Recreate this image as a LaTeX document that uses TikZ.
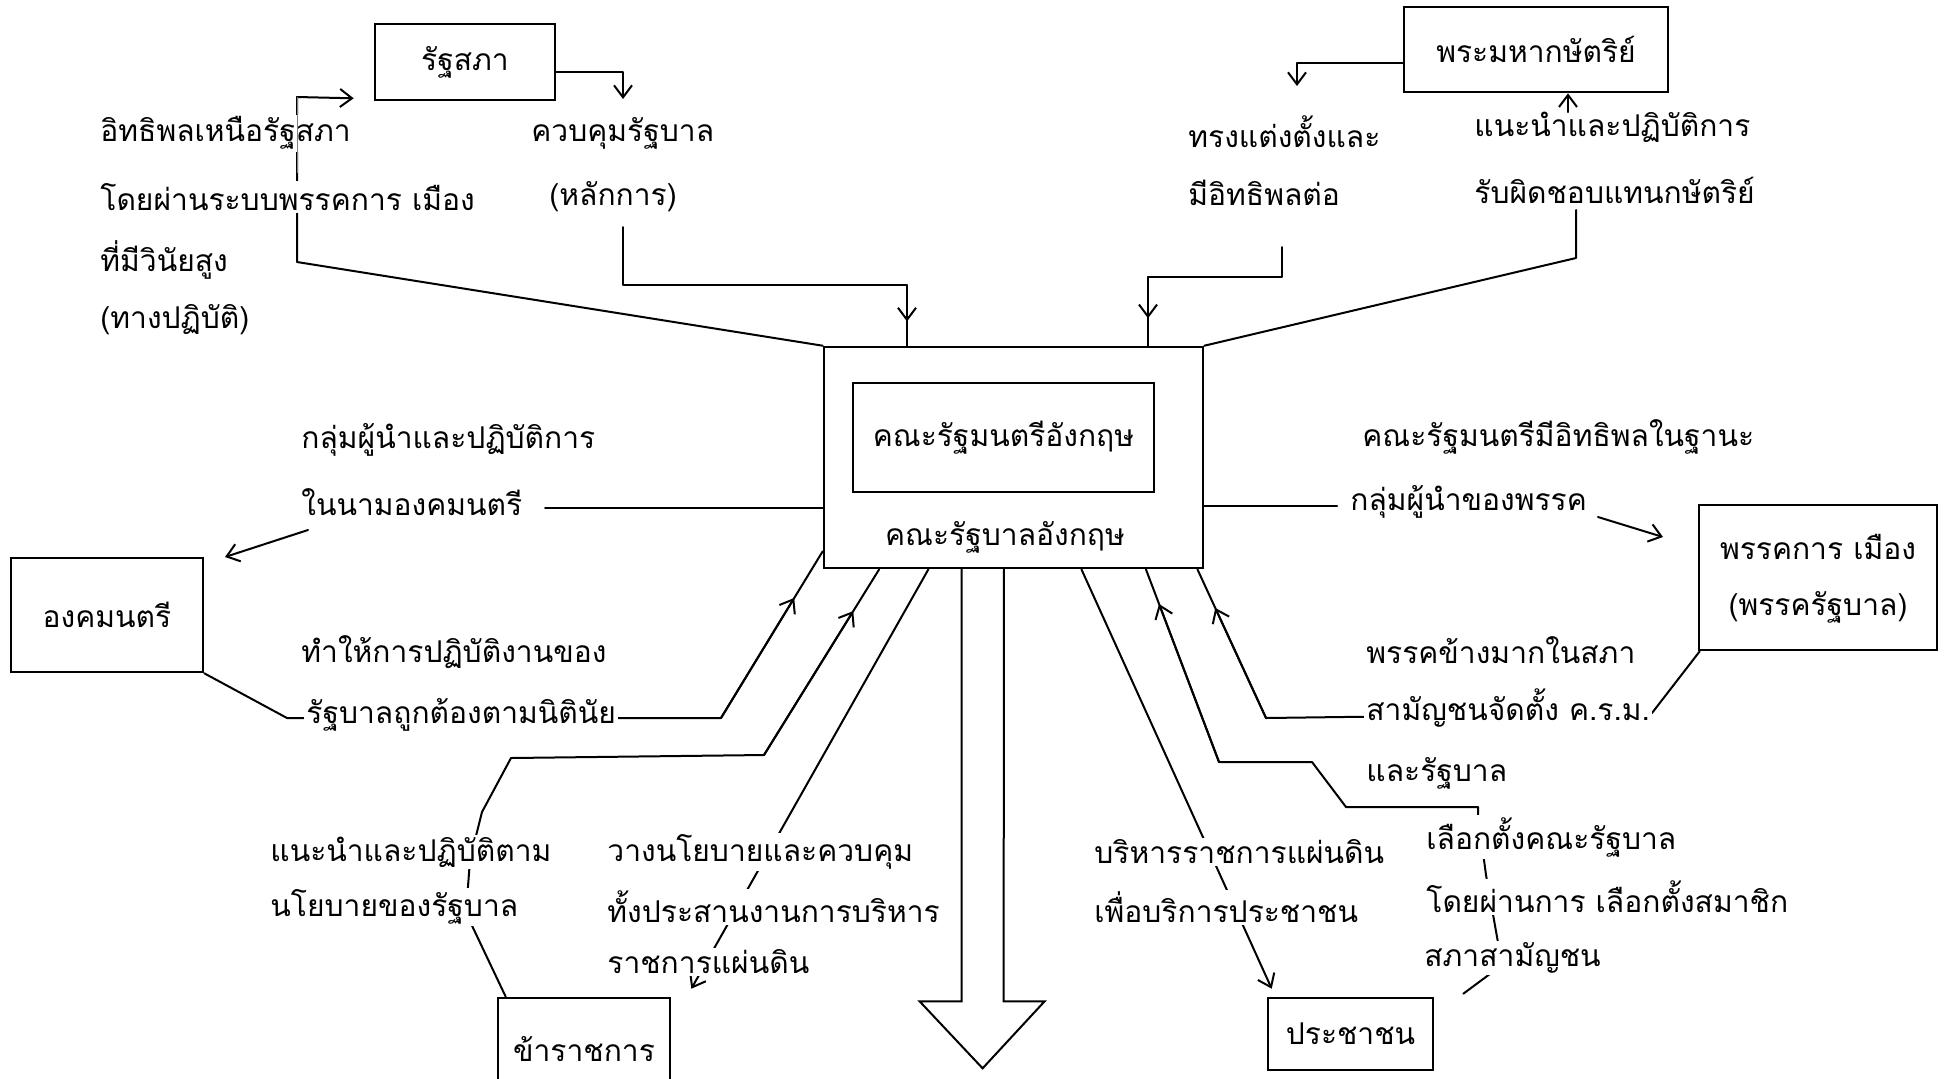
\documentclass[tikz,border=0pt]{standalone}
\usepackage{fontspec}
\newfontfamily\thaifont[Script=Thai]{Loma}
\usetikzlibrary{arrows.meta,calc}
\begin{document}
\begin{tikzpicture}[x=0.5pt,y=-0.5pt,
  ln/.style={line width=1pt, line cap=round, line join=round},
  arr/.style={ln, -{Straight Barb[length=6pt,width=9pt,line width=1pt]}},
  thai/.style={font=\thaifont\fontsize{15}{17}\selectfont},
  lbl/.style={thai, anchor=west, fill=white, inner sep=1pt},
  box/.style={thai, draw, line width=1.3pt, inner sep=0pt},
  sz/.style 2 args={minimum width=#1*0.5pt, minimum height=#2*0.5pt}]
\fill[white] (0,0) rectangle (1949,1078);
\useasboundingbox (0,0) rectangle (1949,1078);

% boxes
\node[box, sz={180}{76}] (rs) at (465,62) {รัฐสภา};
\node[box, sz={264}{85}] (king) at (1536,49.5) {พระมหากษัตริย์};
\node[box, sz={379}{221}] (cab) at (1013.5,457.5) {};
\node[box, sz={301}{109}] (cabin) at (1003.5,437.5) {คณะรัฐมนตรีอังกฤษ};
\node[thai] (govt) at (1005,537) {คณะรัฐบาลอังกฤษ};
\node[box, sz={192}{114}] (privy) at (107,615) {องคมนตรี};
\node[box, sz={238}{145}] (party) at (1818,577.5) {};
\node[thai] (party1) at (1818,547) {พรรคการ เมือง};
\node[thai] (party2) at (1818,607) {(พรรครัฐบาล)};
\node[box, sz={172}{102}] (civil) at (584,1049) {ข้าราชการ};
\node[box, sz={165}{72}] (people) at (1350.5,1034) {ประชาชน};

% L1: cabinet -> parliament
\coordinate (l1a) at (297,262);
\coordinate (l1b) at (297,97);
\draw[arr] (cab.north west) -- (l1a) -- (l1b) -- ($(rs.south west)+(-20,-3)$);

% L2: parliament -> cabinet (control)
\coordinate (l2a) at (623,72);
\coordinate (l2b) at (623,99);
\draw[arr] (l2a -| rs.east) -- (l2a) -- (l2b);
\coordinate (l2c) at (623,227);
\coordinate (l2d) at (623,285);
\coordinate (l2e) at (907,285);
\draw[ln] (l2c) -- (l2d) -- (l2e) -- (l2e |- cab.north);
\draw[arr] (l2e) -- ($(l2e)!0.6!(l2e |- cab.north)$);

% L3: king -> cabinet
\coordinate (l3a) at (1297,63);
\coordinate (l3b) at (1297,86);
\draw[arr] (l3a -| king.west) -- (l3a) -- (l3b);
\coordinate (l3c) at (1282,247);
\coordinate (l3d) at (1282,277);
\coordinate (l3e) at (1148,277);
\draw[ln] (l3c) -- (l3d) -- (l3e) -- (l3e |- cab.north);
\draw[arr] (l3e) -- ($(l3e)!0.6!(l3e |- cab.north)$);

% L4: cabinet -> king
\coordinate (l4a) at (1576,258);
\coordinate (l4b) at (1576,210);
\draw[ln] (cab.north east) -- (l4a) -- (l4b);

% L5: cabinet -> privy council
\coordinate (l5a) at (545,508);
\draw[ln] (l5a) -- (l5a -| cab.west);
\coordinate (l5b) at (308,530);
\coordinate (l5c) at (225,557);
\draw[arr] (l5b) -- (l5c);

% L6: cabinet -> party
\coordinate (l6a) at (1337,506);
\draw[ln] (l6a -| cab.east) -- (l6a);
\coordinate (l6b) at (1598,517);
\coordinate (l6c) at (1663,537);
\draw[arr] (l6b) -- (l6c);

% L7: privy council -> cabinet
\coordinate (l7a) at (287,718);
\coordinate (l7b) at (721,718);
\coordinate (l7c) at ($(cab.south west)+(0,-18)$);
\draw[ln] (privy.south east) -- (l7a) -- (l7b) -- (l7c);
\draw[arr] (l7b) -- ($(l7b)!0.72!(l7c)$);

% L8: civil service -> cabinet
\coordinate (l8a) at (466,913);
\coordinate (l8b) at (470,860);
\coordinate (l8c) at (482,812);
\coordinate (l8d) at (511,758);
\coordinate (l8e) at (764,755);
\coordinate (l8f) at ($(cab.south west)!0.148!(cab.south east)$);
\draw[ln] ($(civil.north west)+(9,0)$) -- (l8a) -- (l8b) -- (l8c) -- (l8d) -- (l8e) -- (l8f);
\draw[arr] (l8e) -- ($(l8e)!0.775!(l8f)$);

% L9: cabinet -> civil service
\coordinate (l9a) at ($(cab.south west)!0.277!(cab.south east)$);
\coordinate (l9b) at ($(civil.north east)+(20,-8)$);
\draw[arr] (l9a) -- (l9b);

% L10: big down arrow
\coordinate (s1) at ($(cab.south west)!0.364!(cab.south east)$);
\coordinate (s2) at ($(cab.south west)!0.475!(cab.south east)$);
\draw[ln, line join=miter] (s1) -- ++(0,432) -- ++(-42,0) -- ++(63,67) -- ++(62,-67) -- ++(-41,0) -- (s2);

% L11: cabinet -> people
\coordinate (l11a) at ($(cab.south west)!0.678!(cab.south east)$);
\coordinate (l11b) at ($(people.north west)+(5,-8)$);
\draw[arr] (l11a) -- (l11b);

% L12: people -> cabinet
\coordinate (l12a) at ($(people.north east)+(29,-3)$);
\coordinate (l12b) at (1502,965);
\coordinate (l12c) at (1486,875);
\coordinate (l12d) at (1478,815);
\coordinate (l12e) at (1478,807);
\coordinate (l12f) at (1346,807);
\coordinate (l12g) at (1312,762);
\coordinate (l12h) at (1219,762);
\coordinate (l12i) at ($(cab.south west)!0.847!(cab.south east)$);
\draw[ln] (l12a) -- (l12b) -- (l12c) -- (l12d) -- (l12e) -- (l12f) -- (l12g) -- (l12h) -- (l12i);
\draw[arr] (l12h) -- ($(l12h)!0.82!(l12i)$);

% L13: party -> cabinet
\coordinate (l13a) at ($(party.south west)+(2,0)$);
\coordinate (l13b) at (1652,713);
\coordinate (l13c) at (1266,718);
\coordinate (l13d) at ($(cab.south west)!0.982!(cab.south east)$);
\draw[ln] (l13a) -- (l13b) -- (l13c) -- (l13d);
\draw[arr] (l13c) -- ($(l13c)!0.74!(l13d)$);

% labels
\node[lbl] (t1) at (98,133) {อิทธิพลเหนือรัฐสภา};
\node[lbl] (t2) at (98,197) {โดยผ่านระบบพรรคการ เมือง};
\node[lbl] (t3) at (98,260) {ที่มีวินัยสูง};
\node[lbl] (t4) at (98,320) {(ทางปฏิบัติ)};
\node[lbl] (t5) at (529,133) {ควบคุมรัฐบาล};
\node[lbl] (t6) at (547,197) {(หลักการ)};
\node[lbl] (t7) at (1186,132) {ทรงแต่งตั้งและ};
\node[lbl] (t8) at (1186,193) {มีอิทธิพลต่อ};
\node[lbl] (t9) at (1472,127) {แนะนำและปฏิบัติการ};
\node[lbl] (t10) at (1472,190) {รับผิดชอบแทนกษัตริย์};
\node[lbl] (t11) at (299,440) {กลุ่มผู้นำและปฏิบัติการ};
\node[lbl] (t12) at (299,502) {ในนามองคมนตรี};
\node[lbl] (t13) at (299,652) {ทำให้การปฏิบัติงานของ};
\node[lbl] (t14) at (304,715) {รัฐบาลถูกต้องตามนิตินัย};
\node[lbl] (t15) at (1360,437) {คณะรัฐมนตรีมีอิทธิพลในฐานะ};
\node[lbl] (t16) at (1348,502) {กลุ่มผู้นำของพรรค};
\node[lbl] (t17) at (1364,650) {พรรคข้างมากในสภา};
\node[lbl] (t18) at (1364,708) {สามัญชนจัดตั้ง ค.ร.ม.};
\node[lbl] (t19) at (1364,773) {และรัฐบาล};
\node[lbl] (t20) at (268,852) {แนะนำและปฏิบัติตาม};
\node[lbl] (t21) at (268,907) {นโยบายของรัฐบาล};
\node[lbl] (t22) at (605,852) {วางนโยบายและควบคุม};
\node[lbl] (t23) at (605,907) {ทั้งประสานงานการบริหาร};
\node[lbl] (t24) at (605,962) {ราชการแผ่นดิน};
\node[lbl] (t25) at (1092,852) {บริหารราชการแผ่นดิน};
\node[lbl] (t26) at (1092,907) {เพื่อบริการประชาชน};
\node[lbl] (t27) at (1424,837) {เลือกตั้งคณะรัฐบาล};
\node[lbl] (t28) at (1424,897) {โดยผ่านการ เลือกตั้งสมาชิก};
\node[lbl] (t29) at (1422,958) {สภาสามัญชน};

% faint part of L1 seen through the first text line
\draw[line width=0.5pt, gray] (l1b) -- ($(l1b)+(0,76)$);

% advice arrow up into the king's box
\coordinate (l4c) at (1568,112);
\draw[arr] (l4c) -- (l4c |- king.south);
\end{tikzpicture}
\end{document}
